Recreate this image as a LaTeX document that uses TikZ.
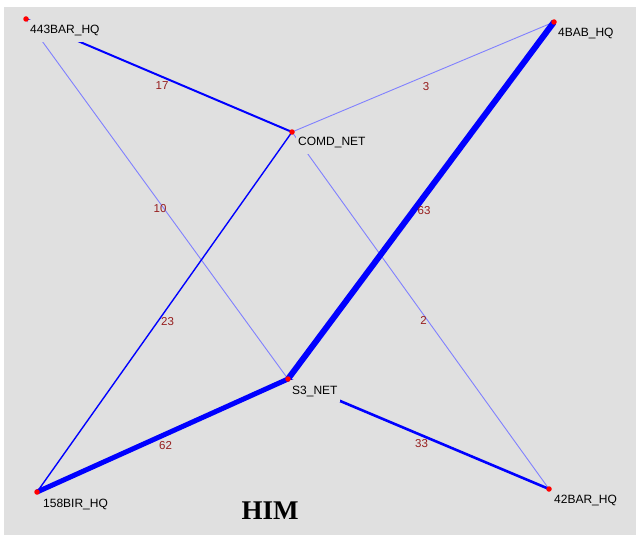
\documentclass[tikz,border=0pt]{standalone}
\usepackage{fontspec}
\setmainfont{Liberation Sans}
\newfontfamily\himfont{Liberation Serif}
\usepackage{tikz}
\usetikzlibrary{calc}

\definecolor{panelgrey}{RGB}{224,224,224}
\definecolor{linkblue}{RGB}{0,0,255}
\definecolor{faintblue}{RGB}{128,128,255}
\definecolor{weightred}{RGB}{150,30,30}

\pgfdeclarelayer{panel}
\pgfdeclarelayer{links}
\pgfsetlayers{panel,links,main}

\tikzset{station/.style={circle,fill=red,inner sep=0pt,minimum size=5.5pt},
  stname/.style={anchor=west,fill=panelgrey,inner xsep=2pt,inner ysep=6pt,font=\fontsize{12}{12}\selectfont},
  wt/.style={midway,xshift=3pt,yshift=-10pt,text=weightred,font=\fontsize{11.5}{11.5}\selectfont},
  faint/.style={faintblue,line width=0.9pt},
  lnk/.style={linkblue,line width=#1}}

\begin{document}
\begin{tikzpicture}[x=1pt,y=-1pt]
\useasboundingbox (0,0) rectangle (636,535);
\begin{pgfonlayer}{panel}
\fill[panelgrey] (4,7) rectangle (636,535);
\end{pgfonlayer}

% stations
\node[station] (bar443) at (26,19) {};
\node[station] (bab4) at (554,22) {};
\node[station] (comd) at (292,132) {};
\node[station] (s3) at (288,379) {};
\node[station] (bir158) at (37,492) {};
\node[station] (bar42) at (549,489) {};

\begin{pgfonlayer}{links}
% links with traffic counts
\draw[lnk=2pt] (bar443.center) -- (comd.center) node[wt]{17};
\draw[faint] (bar443.center) -- (s3.center) node[wt]{10};
\draw[faint] (comd.center) -- (bab4.center) node[wt]{3};
\draw[lnk=1.4pt] (comd.center) -- (bir158.center) node[wt]{23};
\draw[faint] (comd.center) -- (bar42.center) node[wt]{2};
\draw[lnk=6pt] (s3.center) -- (bab4.center) node[wt]{63};
\draw[lnk=5pt] (s3.center) -- (bir158.center) node[wt]{62};
\draw[lnk=2.6pt] (s3.center) -- (bar42.center) node[wt]{33};

% station names, over the links
\node[stname] (bar443tag) at (28,31) {443BAR\_HQ};
\node[stname] (bab4tag) at (556,34) {4BAB\_HQ};
\node[stname] (comdtag) at (296,143) {COMD\_NET};
\node[stname] (s3tag) at (290,391) {S3\_NET};
\node[stname] (bir158tag) at (41,504) {158BIR\_HQ};
\node[stname] (bar42tag) at (552,500) {42BAR\_HQ};
\end{pgfonlayer}

\node[font=\himfont\bfseries\fontsize{27}{27}\selectfont] (him) at (270,511) {HIM};
\end{tikzpicture}
\end{document}
